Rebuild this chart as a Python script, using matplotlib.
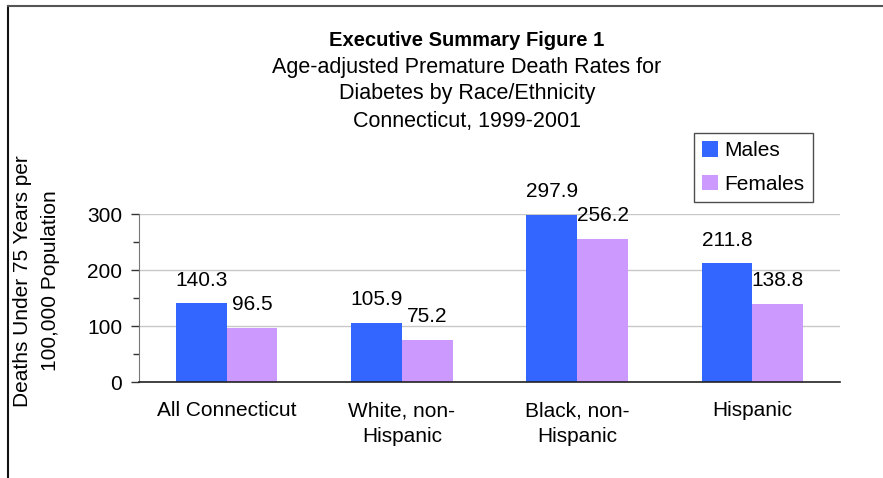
import numpy as np
import matplotlib.pyplot as plt
from matplotlib.ticker import MultipleLocator
from matplotlib.lines import Line2D

plt.rcParams['font.family'] = ['Liberation Sans', 'DejaVu Sans']

categories = ['All Connecticut', 'White, non-\nHispanic', 'Black, non-\nHispanic', 'Hispanic']
males = [140.3, 105.9, 297.9, 211.8]
females = [96.5, 75.2, 256.2, 138.8]
series_names = ['Males', 'Females']

male_color = '#3366FF'
female_color = '#CC99FF'

fig = plt.figure(figsize=(8.83, 4.78), dpi=100)
ax = fig.add_axes([139 / 883, 1 - 382 / 478, (840 - 139) / 883, (382 - 214) / 478])

x = np.arange(len(categories))
w = 0.29
b1 = ax.bar(x - w / 2, males, w, color=male_color, label=series_names[0], zorder=3)
b2 = ax.bar(x + w / 2, females, w, color=female_color, label=series_names[1], zorder=3)

for bars, vals in ((b1, males), (b2, females)):
    for rect, v in zip(bars, vals):
        ax.annotate(f'{v:.1f}', (rect.get_x() + rect.get_width() / 2, v),
                    xytext=(0, 10), textcoords='offset points',
                    ha='center', va='bottom', fontsize=15)

ax.set_xlim(-0.5, 3.5)
ax.set_ylim(0, 300)
ax.set_xticks(x)
ax.set_xticklabels(categories, fontsize=15, linespacing=1.45)
ax.tick_params(axis='x', length=0, pad=14)
ax.set_yticks([0, 100, 200, 300])
ax.yaxis.set_minor_locator(MultipleLocator(50))
ax.tick_params(axis='y', which='major', length=6, width=1, labelsize=15, pad=6, color='#333333')
ax.tick_params(axis='y', which='minor', length=4, width=1, color='#333333')
ax.grid(axis='y', color='#C8C8C8', linewidth=1, zorder=0)
ax.spines['top'].set_visible(False)
ax.spines['right'].set_visible(False)
ax.spines['left'].set_color('#777777')
ax.spines['bottom'].set_color('#222222')
ax.spines['bottom'].set_linewidth(1.2)
ax.spines['bottom'].set_zorder(4)

fig.text(37 / 883, 1 - 281 / 478, 'Deaths Under 75 Years per\n100,000 Population',
         rotation=90, ha='center', va='center', fontsize=15, linespacing=1.6)

title_x = 467 / 883
fig.text(title_x, 1 - 40 / 478, 'Executive Summary Figure 1', ha='center', va='center',
         fontsize=14.5, fontweight='bold')
for i, line in enumerate(['Age-adjusted Premature Death Rates for',
                          'Diabetes by Race/Ethnicity',
                          'Connecticut, 1999-2001']):
    fig.text(title_x, 1 - (67 + 27 * i) / 478, line, ha='center', va='center', fontsize=15.5)

leg = fig.legend(loc='upper left', bbox_to_anchor=(694 / 883, 1 - 133 / 478),
                 fontsize=15, frameon=True, fancybox=False, handlelength=0.75,
                 handleheight=0.75, handletextpad=0.3, borderpad=0.4,
                 labelspacing=0.7, borderaxespad=0)
leg.get_frame().set_edgecolor('#222222')
leg.get_frame().set_linewidth(1)

# frame lines at the top and left edge of the picture
fig.add_artist(Line2D([8 / 883, 8 / 883], [0, 1 - 6 / 478], transform=fig.transFigure,
                      color='#111111', linewidth=1.5))
fig.add_artist(Line2D([8 / 883, 1], [1 - 6 / 478, 1 - 6 / 478], transform=fig.transFigure,
                      color='#555555', linewidth=1.5))

fig.savefig('out.png', dpi=100)
